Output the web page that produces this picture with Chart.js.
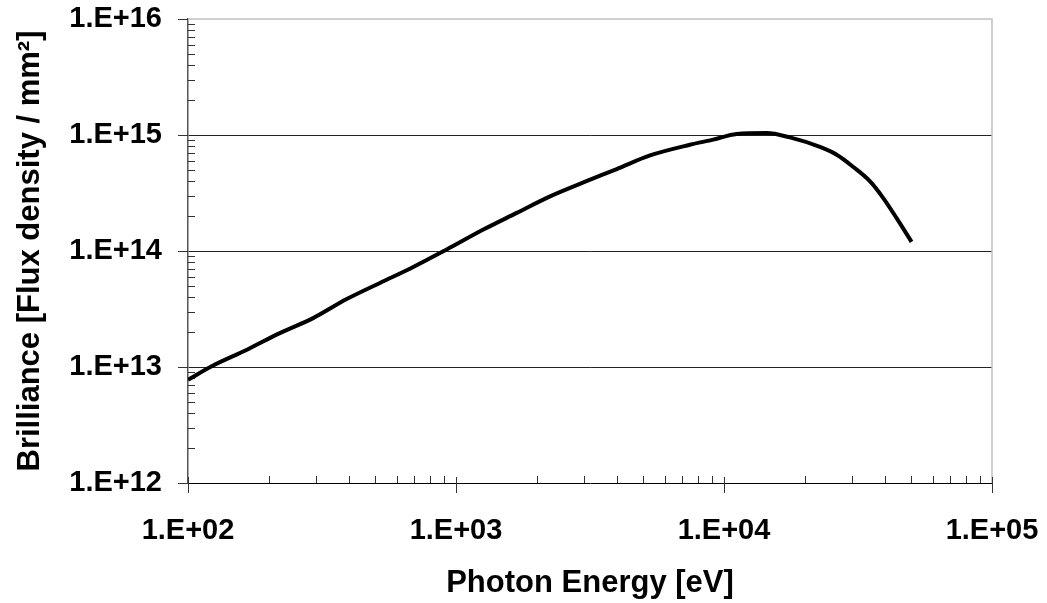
<!DOCTYPE html>
<html>
<head>
<meta charset="utf-8">
<script src="https://cdn.jsdelivr.net/npm/chart.js@4"></script>
<style>
  html, body { margin: 0; padding: 0; background: #fff; }
  #wrap { width: 1047px; height: 603px; }
</style>
</head>
<body>
<div id="wrap"><canvas id="brilliance" width="1047" height="603"></canvas></div>
<script>
// photon energy [eV] and brilliance
const energies = [100, 124, 166, 220, 293, 391, 520, 693, 923, 1265, 1685, 2244, 2987, 3980, 5297, 7464, 9120, 11140, 14420, 17620, 22800, 26340, 30380, 35080, 39290, 44060, 50100];
const brilliance = [7.76e12, 1.03e13, 1.41e13, 1.96e13, 2.64e13, 3.85e13, 5.30e13, 7.28e13, 1.03e14, 1.53e14, 2.13e14, 2.96e14, 3.90e14, 5.09e14, 6.67e14, 8.24e14, 9.12e14, 1.02e15, 1.04e15, 9.53e14, 7.89e14, 6.76e14, 5.30e14, 3.98e14, 2.86e14, 1.92e14, 1.20e14];

// axis decades and the minor multiples in between
const xDecades = [1e2, 1e3, 1e4, 1e5];
const yDecades = [1e12, 1e13, 1e14, 1e15, 1e16];
const minorSteps = [2, 3, 4, 5, 6, 7, 8, 9];

const FONT = "'Liberation Sans', Arial, sans-serif";

function decadeTicks(decades) {
    let ticks = [];
    decades.forEach((d, i) => {
        ticks.push({ value: d, major: true });
        if (i < decades.length - 1) {
            minorSteps.forEach((m) => ticks.push({ value: d * m, major: false }));
        }
    });
    return ticks;
}

// Excel style labels: 1.E+02
function sciLabel(value) {
    const exp = Math.round(Math.log10(value));
    if (Math.abs(Math.log10(value) - exp) > 1e-9) return '';
    return '1.E+' + String(exp).padStart(2, '0');
}

const tickMarks = {
    id: 'tickMarks',
    beforeDatasetsDraw(chart) {
        const { ctx, chartArea: area, scales: { x, y } } = chart;
        ctx.save();

        // light frame along top and right
        ctx.strokeStyle = '#c0c0c0';
        ctx.lineWidth = 1.5;
        ctx.beginPath();
        ctx.moveTo(area.left, area.top);
        ctx.lineTo(area.right, area.top);
        ctx.lineTo(area.right, area.bottom);
        ctx.stroke();

        ctx.strokeStyle = '#333';
        ctx.lineWidth = 1;
        ctx.beginPath();
        x.ticks.forEach((t) => {
            const px = Math.round(x.getPixelForValue(t.value)) + 0.5;
            if (t.major) {
                ctx.moveTo(px, area.bottom - 6);
                ctx.lineTo(px, area.bottom + 10);
            } else {
                ctx.moveTo(px, area.bottom - 7);
                ctx.lineTo(px, area.bottom);
            }
        });
        y.ticks.forEach((t) => {
            const py = Math.round(y.getPixelForValue(t.value)) + 0.5;
            if (t.major) {
                ctx.moveTo(area.left - 10, py);
                ctx.lineTo(area.left, py);
            } else {
                ctx.moveTo(area.left, py);
                ctx.lineTo(area.left + 7, py);
            }
        });
        ctx.stroke();
        ctx.restore();
    }
};

const config = {
    type: 'line',
    data: {
        datasets: [{
            data: energies.map((e, i) => ({ x: e, y: brilliance[i] })),
            borderColor: '#000',
            borderWidth: 4,
            pointRadius: 0,
            cubicInterpolationMode: 'monotone',
            fill: false
        }]
    },
    options: {
        responsive: false,
        animation: false,
        devicePixelRatio: 1,
        layout: { padding: { top: 19, right: 55, left: 0, bottom: 0 } },
        plugins: {
            legend: { display: false },
            tooltip: { enabled: false }
        },
        scales: {
            x: {
                type: 'logarithmic',
                min: 1e2,
                max: 1e5,
                afterBuildTicks: (scale) => { scale.ticks = decadeTicks(xDecades); },
                afterFit: (scale) => {
                    scale.height = 120;
                    scale.paddingLeft = 0;
                    scale.paddingRight = 0;
                },
                grid: { display: false, drawTicks: false },
                border: { display: true, color: '#000', width: 1 },
                ticks: {
                    autoSkip: false,
                    maxRotation: 0,
                    padding: 31,
                    color: '#000',
                    font: { family: FONT, size: 29, weight: 'bold' },
                    callback: (value) => sciLabel(value)
                },
                title: {
                    display: true,
                    text: 'Photon Energy [eV]',
                    color: '#000',
                    padding: { top: 0, bottom: 1 },
                    font: { family: FONT, size: 31, weight: 'bold' }
                }
            },
            y: {
                type: 'logarithmic',
                min: 1e12,
                max: 1e16,
                afterBuildTicks: (scale) => { scale.ticks = decadeTicks(yDecades); },
                afterFit: (scale) => {
                    scale.width = 188;
                    scale.paddingTop = 0;
                    scale.paddingBottom = 0;
                },
                grid: {
                    drawTicks: false,
                    lineWidth: 1,
                    color: (ctx) => {
                        const v = ctx.tick && ctx.tick.value;
                        if (!ctx.tick || !ctx.tick.major || v === 1e12 || v === 1e16) return 'rgba(0,0,0,0)';
                        return '#222';
                    }
                },
                border: { display: true, color: '#555', width: 1.5 },
                ticks: {
                    autoSkip: false,
                    padding: 26,
                    color: '#000',
                    font: { family: FONT, size: 29, weight: 'bold' },
                    callback: (value) => sciLabel(value)
                },
                title: {
                    display: true,
                    text: 'Brilliance [Flux density / mm²]',
                    color: '#000',
                    padding: { top: 12, bottom: 0 },
                    font: { family: FONT, size: 31, weight: 'bold' }
                }
            }
        }
    },
    plugins: [tickMarks]
};

const myChart = new Chart(document.getElementById('brilliance'), config);
</script>
</body>
</html>
